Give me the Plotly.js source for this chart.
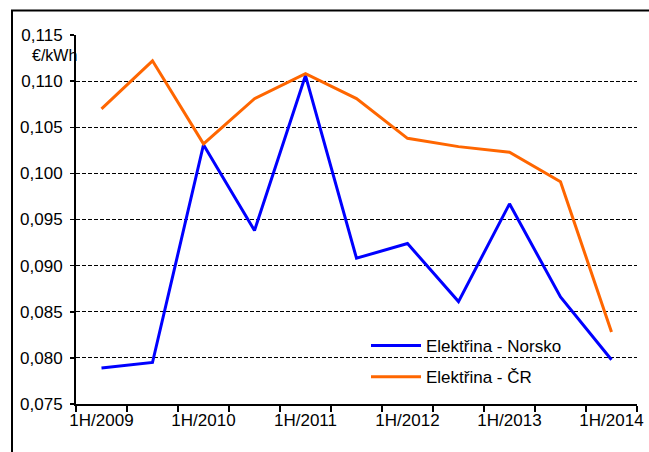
<!DOCTYPE html>
<html>
<head>
<meta charset="utf-8">
<script src="https://cdn.plot.ly/plotly-3.0.1.min.js"></script>
<style>html,body{margin:0;padding:0;background:#fff;}#chart{width:649px;height:452px;}</style>
</head>
<body>
<div id="chart"></div>
<script>
const categories = ["1H/2009","2H/2009","1H/2010","2H/2010","1H/2011","2H/2011","1H/2012","2H/2012","1H/2013","2H/2013","1H/2014"];
const tickLabels = ["1H/2009","","1H/2010","","1H/2011","","1H/2012","","1H/2013","","1H/2014"];
const norsko = [0.0789,0.0795,0.1031,0.0938,0.1106,0.0908,0.0924,0.0861,0.0967,0.0866,0.0798];
const cr = [0.1070,0.1122,0.1032,0.1081,0.1108,0.1081,0.1038,0.1029,0.1023,0.0991,0.0828];
const seriesNames = ["Elektřina - Norsko","Elektřina - ČR"];
const yUnit = "€/kWh";

const font = "Liberation Sans, Arial, sans-serif";
const data = [
  {x: categories, y: norsko, name: seriesNames[0], type: "scatter", mode: "lines",
   line: {color: "#0000FF", width: 3}, legendgroup: "a"},
  {x: categories, y: cr, name: seriesNames[1], type: "scatter", mode: "lines",
   line: {color: "#FF6600", width: 3}, legendgroup: "b"}
];
const layout = {
  width: 649, height: 452,
  margin: {l: 76, r: 12, t: 35, b: 48},
  paper_bgcolor: "#fff", plot_bgcolor: "#fff",
  separators: ", ",
  font: {family: font, color: "#000", size: 16},
  showlegend: true,
  legend: {x: (366-76)/561, y: 1 - (328-35)/369, xanchor: "left", yanchor: "top", bgcolor: "rgba(0,0,0,0)",
           font: {size: 17, family: font}, traceorder: "grouped", tracegroupgap: 6, itemwidth: 50},
  xaxis: {type: "category", tickmode: "array", tickvals: categories, ticktext: tickLabels,
          tickson: "boundaries", ticks: "outside", ticklen: 6, tickwidth: 1.5, tickcolor: "#000",
          tickangle: 0,
          showline: true, linecolor: "#000", linewidth: 2, showgrid: false, zeroline: false,
          range: [-0.5, 10.5], tickfont: {size: 17}},
  yaxis: {range: [0.075, 0.115], dtick: 0.005, tick0: 0.075, tickformat: ".3f",
          ticks: "outside", ticklen: 4, tickwidth: 1.5, tickcolor: "#000",
          showline: true, linecolor: "#000", linewidth: 2,
          showgrid: true, gridcolor: "#000", gridwidth: 1, griddash: "4px,2px",
          zeroline: false, tickfont: {size: 17}, ticklabelstandoff: 4},
  yaxis2: {overlaying: "y", anchor: "x", side: "left", range: [0.075, 0.115], dtick: 0.005, tick0: 0.075,
           ticks: "inside", ticklen: 4, tickwidth: 1.5, tickcolor: "#000",
           showticklabels: false, showline: false, showgrid: false, zeroline: false},
  annotations: [
    {text: yUnit, xref: "paper", yref: "paper", x: (79-76)/561, y: 1 - (56-35)/369,
     xanchor: "right", yanchor: "middle", showarrow: false, font: {size: 16, family: font}}
  ],
  shapes: [
    {type: "rect", xref: "paper", yref: "paper", x0: (12-76)/561, x1: 1.1, y0: -0.3, y1: 1 + (35-10.5)/369,
     line: {color: "#000", width: 2}, fillcolor: "rgba(0,0,0,0)", layer: "above"}
  ]
};
Plotly.newPlot("chart", data, layout, {staticPlot: true, displayModeBar: false});
</script>
</body>
</html>
